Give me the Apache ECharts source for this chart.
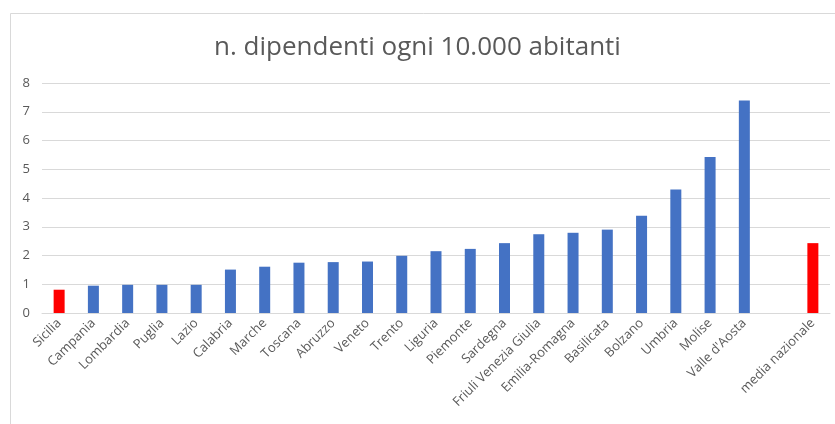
<!DOCTYPE html>
<html>
<head>
<meta charset="utf-8">
<script src="https://cdn.jsdelivr.net/npm/echarts@6/dist/echarts.min.js"></script>
<style>
  html, body { margin: 0; padding: 0; background: #fff; }
  #chart { width: 835px; height: 424px; }
</style>
</head>
<body>
<div id="chart"></div>
<script>
// regioni (lo slot vuoto separa la media nazionale)
let regioni = ['Sicilia', 'Campania', 'Lombardia', 'Puglia', 'Lazio', 'Calabria', 'Marche',
    'Toscana', 'Abruzzo', 'Veneto', 'Trento', 'Liguria', 'Piemonte', 'Sardegna',
    'Friuli Venezia Giulia', 'Emilia-Romagna', 'Basilicata', 'Bolzano', 'Umbria',
    'Molise', "Valle d'Aosta", '', 'media nazionale'];
let dipendenti = [0.81, 0.95, 0.98, 0.98, 0.98, 1.51, 1.61, 1.75, 1.77, 1.79, 1.99,
    2.15, 2.23, 2.43, 2.74, 2.79, 2.90, 3.38, 4.30, 5.43, 7.39, null, 2.43];
let evidenziate = ['Sicilia', 'media nazionale'];
let yTicks = [0, 1, 2, 3, 4, 5, 6, 7, 8];

let dati = dipendenti.map(function (v, i) {
    return {
        value: v,
        itemStyle: { color: evidenziate.indexOf(regioni[i]) >= 0 ? '#ff0000' : '#4472c4' }
    };
});

let option = {
    backgroundColor: '#ffffff',
    animation: false,
    title: {
        text: 'n. dipendenti ogni 10.000 abitanti',
        left: 'center',
        top: 30,
        textStyle: {
            color: '#595959',
            fontSize: 26,
            fontWeight: 'normal',
            fontFamily: 'Open Sans'
        }
    },
    graphic: [{
        type: 'rect',
        shape: { x: 10.5, y: 13.5, width: 900, height: 500 },
        style: { fill: 'none', stroke: '#d9d9d9', lineWidth: 1 },
        silent: true
    }],
    grid: {
        left: 42,
        right: 5,
        top: 83,
        bottom: 111
    },
    xAxis: {
        type: 'category',
        data: regioni,
        axisLine: { lineStyle: { color: '#d9d9d9', width: 1 } },
        axisTick: { show: false },
        axisLabel: {
            interval: 0,
            rotate: 45,
            color: '#595959',
            fontSize: 13,
            fontFamily: 'Open Sans',
            margin: 8
        }
    },
    yAxis: {
        type: 'value',
        min: yTicks[0],
        max: yTicks[yTicks.length - 1],
        interval: 1,
        axisLine: { show: false },
        axisTick: { show: false },
        axisLabel: {
            color: '#595959',
            fontSize: 13,
            fontFamily: 'Open Sans',
            margin: 12
        },
        splitLine: { lineStyle: { color: '#d9d9d9', width: 1 } }
    },
    series: [{
        name: 'dipendenti',
        type: 'bar',
        barWidth: 11,
        data: dati
    }]
};

let myChart = echarts.init(document.getElementById('chart'));
myChart.setOption(option);
</script>
</body>
</html>
